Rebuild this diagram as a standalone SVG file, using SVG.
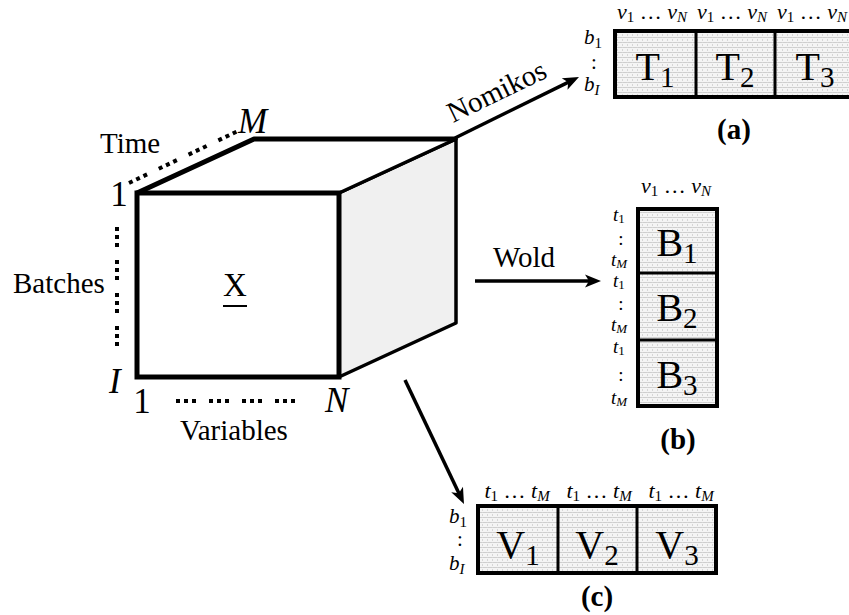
<svg xmlns="http://www.w3.org/2000/svg" width="849" height="615" viewBox="0 0 849 615">
<style>
.lbl{font-family:"Liberation Serif",serif;font-size:29px;fill:#000}
.math{font-family:"Liberation Serif",serif;font-size:35px;fill:#000}
.it{font-style:italic}
.cell{font-family:"Liberation Serif",serif;font-size:40px;fill:#000}
.hdr{font-family:"Liberation Serif",serif;font-size:22px;fill:#000}
.side{font-family:"Liberation Serif",serif;font-size:21px;fill:#000}
.sideb{font-family:"Liberation Serif",serif;font-size:19px;fill:#000}
.cap{font-family:"Liberation Serif",serif;font-size:29px;font-weight:bold;fill:#000}
.dots{fill:none;stroke:#000;stroke-width:4;stroke-dasharray:4 4 4 4 4 13}
.mat{fill:url(#grid);stroke:#000;stroke-width:4}
.div{stroke:#000;stroke-width:3}
.arrow{stroke:#000;stroke-width:3.5;fill:none;marker-end:url(#head)}
</style>
<defs>
<pattern id="grid" width="5" height="5" patternUnits="userSpaceOnUse">
<rect width="5" height="5" fill="#f5f5f5"/>
<path d="M0 2.5H5" stroke="#cfcfcf" stroke-width="1" stroke-dasharray="2 1"/>
<path d="M2.5 0V5" stroke="#d6d6d6" stroke-width="1" stroke-dasharray="1 1"/>
</pattern>
<marker id="head" markerUnits="userSpaceOnUse" markerWidth="20" markerHeight="16" viewBox="-11 -8 20 16" refX="0" refY="0" orient="auto">
<path d="M6,0 L-10,-6.5 L-6,0 L-10,6.5 Z" fill="#000"/>
</marker>
</defs>

<g id="cube">
<polygon points="339,193 456,139 456,323 339,377" fill="#f0f0f0" stroke="#000" stroke-width="3.5" stroke-linejoin="round"/>
<polygon points="137,193 254,139 456,139 339,193" fill="#fff" stroke="#000" stroke-width="3.5" stroke-linejoin="round"/>
<polyline points="137,193 254,139 456,139" fill="none" stroke="#000" stroke-width="5" stroke-linejoin="round"/>
<rect x="137" y="193" width="202" height="184" fill="#fff" stroke="#000" stroke-width="5"/>
<text class="math" x="235" y="296" text-anchor="middle" style="font-size:33px">X</text>
<line x1="223" y1="306" x2="247" y2="306" stroke="#000" stroke-width="2"/>
</g>

<g id="axes">
<path class="dots" d="M129,183 L238,131"/>
<path class="dots" d="M117,227 L117,350"/>
<path class="dots" d="M176,401 L297,401"/>
<text class="math" x="119" y="206" text-anchor="middle">1</text>
<text class="math it" x="238" y="133">M</text>
<text class="math it" x="109" y="393">I</text>
<text class="math" x="142" y="413" text-anchor="middle">1</text>
<text class="math it" x="325" y="412">N</text>
<text class="lbl" x="100" y="153">Time</text>
<text class="lbl" x="13" y="293">Batches</text>
<text class="lbl" x="180" y="440">Variables</text>
</g>

<g id="connectors">
<line class="arrow" x1="455" y1="138" x2="573.6" y2="79.6"/>
<line class="arrow" x1="475" y1="281" x2="595" y2="281"/>
<line class="arrow" x1="405" y1="380" x2="461.4" y2="498.6"/>
<text class="lbl" x="453" y="123" transform="rotate(-25.8 453 123)">Nomikos</text>
<text class="lbl" x="493" y="267">Wold</text>
</g>

<g id="matrix-a">
<rect class="mat" x="615" y="31" width="241" height="66"/>
<line class="div" x1="696" y1="31" x2="696" y2="97"/>
<line class="div" x1="775" y1="31" x2="775" y2="97"/>
<text class="cell" x="655" y="80" text-anchor="middle">T<tspan font-size="29" dy="7">1</tspan></text>
<text class="cell" x="735" y="80" text-anchor="middle">T<tspan font-size="29" dy="7">2</tspan></text>
<text class="cell" x="815" y="80" text-anchor="middle">T<tspan font-size="29" dy="7">3</tspan></text>
<text class="hdr" x="652" y="19" text-anchor="middle"><tspan font-style="italic">v</tspan><tspan font-size="15" dy="3">1</tspan><tspan dy="-3"> … </tspan><tspan font-style="italic">v</tspan><tspan font-size="15" dy="3" font-style="italic">N</tspan></text>
<text class="hdr" x="732" y="19" text-anchor="middle"><tspan font-style="italic">v</tspan><tspan font-size="15" dy="3">1</tspan><tspan dy="-3"> … </tspan><tspan font-style="italic">v</tspan><tspan font-size="15" dy="3" font-style="italic">N</tspan></text>
<text class="hdr" x="812" y="19" text-anchor="middle"><tspan font-style="italic">v</tspan><tspan font-size="15" dy="3">1</tspan><tspan dy="-3"> … </tspan><tspan font-style="italic">v</tspan><tspan font-size="15" dy="3" font-style="italic">N</tspan></text>
<text class="side" x="584" y="44"><tspan font-style="italic">b</tspan><tspan font-size="15" dy="4">1</tspan></text>
<text class="side" x="594" y="69" text-anchor="middle">:</text>
<text class="side" x="584" y="91"><tspan font-style="italic">b</tspan><tspan font-size="15" dy="4" font-style="italic">I</tspan></text>
<text class="cap" x="734" y="139" text-anchor="middle">(a)</text>
</g>

<g id="matrix-b">
<rect class="mat" x="638" y="209" width="79" height="197"/>
<line class="div" x1="638" y1="273" x2="717" y2="273"/>
<line class="div" x1="638" y1="340" x2="717" y2="340"/>
<text class="cell" x="677" y="256" text-anchor="middle">B<tspan font-size="29" dy="7">1</tspan></text>
<text class="cell" x="677" y="321" text-anchor="middle">B<tspan font-size="29" dy="7">2</tspan></text>
<text class="cell" x="677" y="388" text-anchor="middle">B<tspan font-size="29" dy="7">3</tspan></text>
<text class="hdr" x="676" y="193" text-anchor="middle"><tspan font-style="italic">v</tspan><tspan font-size="15" dy="3">1</tspan><tspan dy="-3"> … </tspan><tspan font-style="italic">v</tspan><tspan font-size="15" dy="3" font-style="italic">N</tspan></text>
<text class="sideb" x="613" y="221"><tspan font-style="italic">t</tspan><tspan font-size="13" dy="2">1</tspan></text>
<text class="sideb" x="621" y="245" text-anchor="middle">:</text>
<text class="sideb" x="611" y="266"><tspan font-style="italic">t</tspan><tspan font-size="13" dy="2" font-style="italic">M</tspan></text>
<text class="sideb" x="613" y="287"><tspan font-style="italic">t</tspan><tspan font-size="13" dy="2">1</tspan></text>
<text class="sideb" x="621" y="310" text-anchor="middle">:</text>
<text class="sideb" x="611" y="331"><tspan font-style="italic">t</tspan><tspan font-size="13" dy="2" font-style="italic">M</tspan></text>
<text class="sideb" x="613" y="353"><tspan font-style="italic">t</tspan><tspan font-size="13" dy="2">1</tspan></text>
<text class="sideb" x="621" y="381" text-anchor="middle">:</text>
<text class="sideb" x="611" y="404"><tspan font-style="italic">t</tspan><tspan font-size="13" dy="2" font-style="italic">M</tspan></text>
<text class="cap" x="678" y="449" text-anchor="middle">(b)</text>
</g>

<g id="matrix-c">
<rect class="mat" x="478" y="506" width="238" height="67"/>
<line class="div" x1="558" y1="506" x2="558" y2="573"/>
<line class="div" x1="637" y1="506" x2="637" y2="573"/>
<text class="cell" x="518" y="558" text-anchor="middle">V<tspan font-size="29" dy="7">1</tspan></text>
<text class="cell" x="597" y="558" text-anchor="middle">V<tspan font-size="29" dy="7">2</tspan></text>
<text class="cell" x="677" y="558" text-anchor="middle">V<tspan font-size="29" dy="7">3</tspan></text>
<text class="hdr" x="517" y="498" text-anchor="middle"><tspan font-style="italic">t</tspan><tspan font-size="15" dy="3">1</tspan><tspan dy="-3"> … </tspan><tspan font-style="italic">t</tspan><tspan font-size="15" dy="3" font-style="italic">M</tspan></text>
<text class="hdr" x="599" y="498" text-anchor="middle"><tspan font-style="italic">t</tspan><tspan font-size="15" dy="3">1</tspan><tspan dy="-3"> … </tspan><tspan font-style="italic">t</tspan><tspan font-size="15" dy="3" font-style="italic">M</tspan></text>
<text class="hdr" x="681" y="498" text-anchor="middle"><tspan font-style="italic">t</tspan><tspan font-size="15" dy="3">1</tspan><tspan dy="-3"> … </tspan><tspan font-style="italic">t</tspan><tspan font-size="15" dy="3" font-style="italic">M</tspan></text>
<text class="side" x="449" y="523"><tspan font-style="italic">b</tspan><tspan font-size="15" dy="4">1</tspan></text>
<text class="side" x="460" y="546" text-anchor="middle">:</text>
<text class="side" x="449" y="570"><tspan font-style="italic">b</tspan><tspan font-size="15" dy="4" font-style="italic">I</tspan></text>
<text class="cap" x="597" y="606" text-anchor="middle">(c)</text>
</g>
</svg>
